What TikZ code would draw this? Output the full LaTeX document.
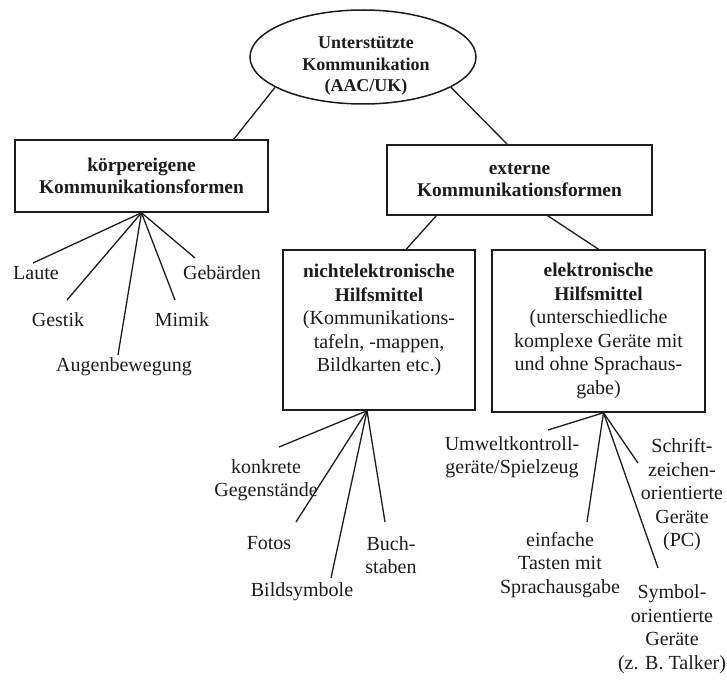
\documentclass[tikz,border=0pt]{standalone}
\usepackage{fontspec}
\setmainfont{Liberation Serif}
\usetikzlibrary{shapes.geometric,calc}
\definecolor{ink}{HTML}{1C1C1C}
\newcommand\hb[1]{{\fontsize{19.4}{23.5}\selectfont\bfseries #1}}
\begin{document}
\begin{tikzpicture}[x=1pt,y=-1pt,
  every node/.style={text=ink, font=\fontsize{20}{23.5}\selectfont},
  box/.style={draw=ink, line width=1.5pt, inner sep=0pt, align=center},
  headbox/.style={box, font=\fontsize{19.4}{21.5}\selectfont\bfseries},
  lbl/.style={align=center, inner sep=0pt},
  conn/.style={draw=ink, line width=1.3pt},
]
\useasboundingbox[fill=white] (0,0) rectangle (727,679);

% top ellipse
\node[ellipse, draw=ink, line width=1.5pt, minimum width=226pt, minimum height=94pt, inner sep=0pt] (uk) at (363,57) {};
\node[lbl, font=\fontsize{18}{21.5}\selectfont\bfseries] (uktext) at (366,66) {Unterstützte\\Kommunikation\\(AAC/UK)};

% boxes
\node[headbox, minimum width=253pt, minimum height=72pt] (b1) at (141.5,176) {körpereigene\\Kommunikationsformen};
\node[headbox, minimum width=265pt, minimum height=70pt] (b2) at (519.5,180) {externe\\Kommunikationsformen};
\node[box, minimum width=192pt, minimum height=160pt] (b3) at (379,330) {\hb{nichtelektronische}\\\hb{Hilfsmittel}\\(Kommunikations-\\tafeln, -mappen,\\Bildkarten etc.)\\\mbox{}};
\node[box, minimum width=213pt, minimum height=162pt] (b4) at (598.5,331) {\hb{elektronische}\\\hb{Hilfsmittel}\\(unterschiedliche\\komplexe Geräte mit\\und ohne Sprachaus-\\gabe)};

% tree connectors
\draw[conn] (uk.199) -- ([xshift=-35pt]b1.north east);
\draw[conn] (uk.341) -- ([xshift=121pt]b2.north west);
\draw[conn] ([xshift=50pt]b2.south west) -- ([xshift=124pt]b3.north west);
\draw[conn] ([xshift=-105pt]b2.south east) -- (b4.north);

% labels under box 1
\node[lbl] (laute) at (36,273) {Laute};
\node[lbl] (gestik) at (58,320) {Gestik};
\node[lbl] (augen) at (124,367) {Augenbewegung};
\node[lbl] (mimik) at (182,320) {Mimik};
\node[lbl] (gebaerden) at (222,273) {Gebärden};
\coordinate (e11) at (33,263);
\coordinate (e12) at (67,300);
\coordinate (e13) at (118,355);
\coordinate (e14) at (175,300);
\coordinate (e15) at (195,258);
\foreach \e in {e11,e12,e13,e14,e15} \draw[conn] (b1.south) -- (\e);

% labels under box 3
\node[lbl] (konkret) at (266,480) {konkrete\\Gegenstände};
\node[lbl] (fotos) at (269,543) {Fotos};
\node[lbl] (buch) at (391,555) {Buch-\\staben};
\node[lbl] (bild) at (302,592) {Bildsymbole};
\coordinate (a3) at ([xshift=-12pt]b3.south);
\coordinate (e31) at (279,447);
\coordinate (e32) at (296,522);
\coordinate (e33) at (331,578);
\coordinate (e34) at (385,522);
\foreach \e in {e31,e32,e33,e34} \draw[conn] (a3) -- (\e);

% labels under box 4
\node[lbl] (umwelt) at (512,457) {Umweltkontroll-\\geräte/Spielzeug};
\node[lbl] (schrift) at (682,495) {Schrift-\\zeichen-\\orientierte\\Geräte\\(PC)};
\node[lbl] (einfach) at (560,565) {einfache\\Tasten mit\\Sprachausgabe};
\node[lbl] (symbol) at (672,629) {Symbol-\\orientierte\\Geräte\\(z. B. Talker)};
\coordinate (a4) at ([xshift=5pt]b4.south);
\coordinate (e41) at (548,430);
\coordinate (e42) at (587,522);
\coordinate (e43) at (658,568);
\coordinate (e44) at (638,463);
\foreach \e in {e41,e42,e43,e44} \draw[conn] (a4) -- (\e);
\end{tikzpicture}
\end{document}
